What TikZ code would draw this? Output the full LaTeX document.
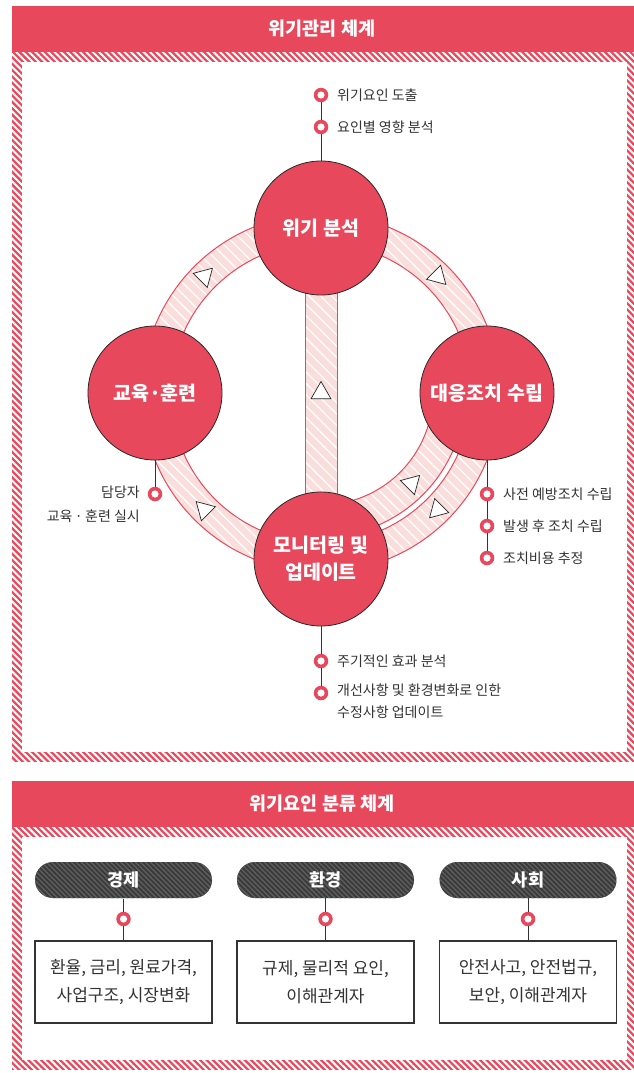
\documentclass[tikz,border=0pt]{standalone}
\usepackage{fontspec}
\setmainfont{Noto Sans CJK KR}
\usetikzlibrary{calc,patterns.meta,shapes.geometric}
\definecolor{cred}{HTML}{E8485C}
\definecolor{cpink}{HTML}{F9DEDC}
\definecolor{cdark}{HTML}{3A3A3A}
\definecolor{cdark2}{HTML}{5E5E5E}
\definecolor{ctext}{HTML}{333333}
\begin{document}
\begin{tikzpicture}[x=1pt,y=-1pt,
  bigc/.style={circle,draw=black!85,line width=0.8pt,fill=cred,minimum size=134pt,inner sep=0pt,text=white,font=\fontsize{19.5}{27}\selectfont\bfseries,align=center},
  bul/.style={circle,fill=cred,minimum size=14.5pt,inner sep=0pt,path picture={\fill[white] (path picture bounding box.center) circle[radius=3.6pt];}},
  lbl/.style={font=\fontsize{14}{22}\selectfont,text=ctext,inner sep=0pt},
  tri/.style={regular polygon,regular polygon sides=3,draw=black!85,fill=white,line width=0.7pt,minimum size=23pt,inner sep=0pt},
  conn/.style={draw=ctext,line width=1pt},
  hdr/.style={font=\fontsize{18.5}{22}\selectfont\bfseries,text=white},
  band/.style={pattern={Lines[angle=-45,distance=8pt,line width=1.3pt]},pattern color=white},
  bandline/.style={draw=cred,line width=1pt},
  frameh/.style={pattern={Lines[angle=-45,distance=4.5pt,line width=2pt]},pattern color=white},
  pill/.style={preaction={fill=cdark},pattern={Lines[angle=-45,distance=3.5pt,line width=1.4pt]},pattern color=cdark2,rounded corners=18pt,minimum width=177pt,minimum height=36pt,inner sep=0pt,text=white,font=\fontsize{17.5}{20}\selectfont\bfseries},
  fbox/.style={draw=ctext,line width=1.2pt,fill=white,minimum width=177pt,minimum height=82pt,inner sep=0pt,align=center,text=ctext,font=\fontsize{17}{28}\selectfont}
]
\useasboundingbox (0,0) rectangle (633,1073);
% ---------- top panel frame ----------
\fill[cred] (12,52) rectangle (637,762);
\fill[frameh] (12,52) rectangle (637,762);
\fill[white] (22,62) rectangle (627,752);
\fill[cred] (12,6) rectangle (637,52);
\node[hdr] (h1) at (322,29) {위기관리 체계};
% ---------- ring ----------
\coordinate (C) at (321,393);
\fill[cpink,even odd rule] (C) circle[radius=179] (C) circle[radius=150];
\fill[band,even odd rule] (C) circle[radius=179] (C) circle[radius=150];
\draw[bandline] (C) circle[radius=179] (C) circle[radius=150];
% inner lower-right band
\fill[cpink] ($(C)+(0:112)$) arc[start angle=0,end angle=90,radius=112] -- ($(C)+(90:144)$) arc[start angle=90,end angle=0,radius=144] -- cycle;
\fill[band] ($(C)+(0:112)$) arc[start angle=0,end angle=90,radius=112] -- ($(C)+(90:144)$) arc[start angle=90,end angle=0,radius=144] -- cycle;
\draw[bandline] ($(C)+(0:112)$) arc[start angle=0,end angle=90,radius=112];
\draw[bandline] ($(C)+(0:144)$) arc[start angle=0,end angle=90,radius=144];
% vertical bar
\fill[cpink] (305,290) rectangle (337,500);
\fill[band] (305,290) rectangle (337,500);
\draw[bandline] (305,290) -- (305,500) (337,290) -- (337,500);
% triangles
\node[tri,rotate=-45] (t1) at ($(C)+(225:165)$) {};
\node[tri,rotate=-135] (t2) at ($(C)+(315:165)$) {};
\node[tri,rotate=135] (t3) at ($(C)+(45:165)$) {};
\node[tri,rotate=45] (t4) at ($(C)+(135:165)$) {};
\node[tri] (t5) at (321,393) {};
\node[tri,rotate=-45] (t6) at ($(C)+(45:128)$) {};
% bullets
\node[bul] (ba1) at (321,95) {};
\node[bul] (ba2) at (321,127) {};
\node[bul] (bd1) at (487,494) {};
\node[bul] (bd2) at (487,526) {};
\node[bul] (bd3) at (487,558) {};
\node[bul] (bb1) at (155,494) {};
\node[bul] (bm1) at (321,661) {};
\node[bul] (bm2) at (321,693) {};
% big circles
\node[bigc] (A) at (321,228) {위기 분석};
\node[bigc] (B) at (155,393) {교육·훈련};
\node[bigc] (D) at (487,393) {대응조치 수립};
\node[bigc] (M) at (321,559) {모니터링 및\\업데이트};
% connectors
\draw[conn] (ba1.south) -- (ba2.north);
\draw[conn] (ba2.south) -- (A.north);
\draw[conn] (D.south) -- (bd1.north);
\draw[conn] (bd1.south) -- (bd2.north);
\draw[conn] (bd2.south) -- (bd3.north);
\draw[conn] (B.south) -- (bb1.north);
\draw[conn] (M.south) -- (bm1.north);
\draw[conn] (bm1.south) -- (bm2.north);
% labels
\node[lbl,anchor=west] (la1) at (337,95) {위기요인 도출};
\node[lbl,anchor=west] (la2) at (337,127) {요인별 영향 분석};
\node[lbl,anchor=west] (ld1) at (503,494) {사전 예방조치 수립};
\node[lbl,anchor=west] (ld2) at (503,526) {발생 후 조치 수립};
\node[lbl,anchor=west] (ld3) at (503,558) {조치비용 추정};
\node[lbl,anchor=north east,align=right,font=\fontsize{14}{24}\selectfont] (lb1) at (140,486) {담당자\\교육\,·\,훈련 실시};
\node[lbl,anchor=west] (lm1) at (337,661) {주기적인 효과 분석};
\node[lbl,anchor=north west,align=left] (lm2) at (337,684) {개선사항 및 환경변화로 인한\\수정사항 업데이트};
% ---------- bottom panel ----------
\fill[cred] (12,827) rectangle (637,1070);
\fill[frameh] (12,827) rectangle (637,1070);
\fill[white] (22,837) rectangle (627,1060);
\fill[cred] (12,781) rectangle (637,827);
\node[hdr] (h2) at (322,804) {위기요인 분류 체계};
\node[pill] (p1) at (123.5,880) {경제};
\node[pill] (p2) at (325.5,880) {환경};
\node[pill] (p3) at (528,880) {사회};
\node[fbox] (f1) at (123.5,982) {환율, 금리, 원료가격,\\사업구조, 시장변화};
\node[fbox] (f2) at (325.5,982) {규제, 물리적 요인,\\이해관계자};
\node[fbox] (f3) at (528,982) {안전사고, 안전법규,\\보안, 이해관계자};
\node[bul] (q1) at (123.5,919) {};
\node[bul] (q2) at (325.5,919) {};
\node[bul] (q3) at (528,919) {};
\draw[conn] (p1.south) -- (q1.north) (q1.south) -- (f1.north);
\draw[conn] (p2.south) -- (q2.north) (q2.south) -- (f2.north);
\draw[conn] (p3.south) -- (q3.north) (q3.south) -- (f3.north);
\end{tikzpicture}
\end{document}
